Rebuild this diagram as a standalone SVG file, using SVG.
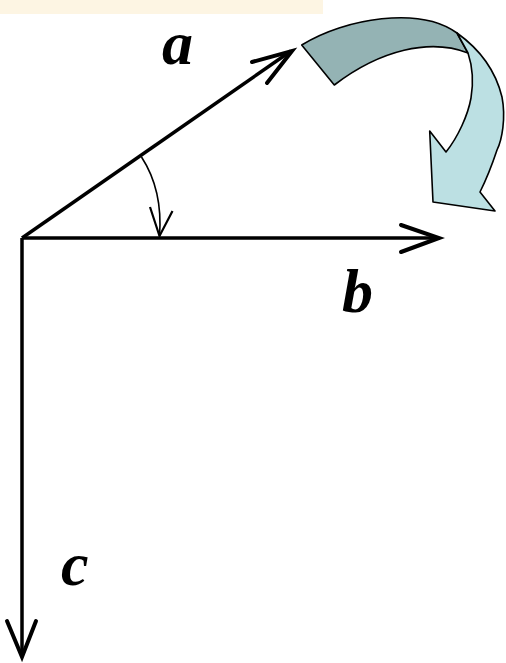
<svg xmlns="http://www.w3.org/2000/svg" width="506" height="663" viewBox="0 0 506 663">
<style>
.v{fill:none;stroke:#000;stroke-width:3.5;stroke-linecap:butt;stroke-linejoin:miter}
.h{fill:none;stroke:#000;stroke-width:4;stroke-linecap:round;stroke-linejoin:miter}
.lbl{font-family:"Liberation Serif",serif;font-style:italic;font-weight:bold;font-size:62px;fill:#000}
.cv{stroke:#000;stroke-width:1.6;stroke-linejoin:round}
</style>
<rect x="0" y="0" width="323" height="14" fill="#FDF5E3"/>
<g id="connectors">
<path class="v" d="M22,238 L291,51"/>
<path class="h" d="M252,62 L292,51 L267,83"/>
<path class="v" d="M22,238 L438,238"/>
<path class="h" d="M401,225 L439,238 L401,252"/>
<path class="v" d="M22,238 L22,656"/>
<path class="h" d="M7,621 L22,657 L36,621"/>
<path d="M141.5,157 Q163,190 159.5,236" fill="none" stroke="#000" stroke-width="1.6"/>
<path d="M150,207 L159.5,236 L172.5,211" fill="none" stroke="#000" stroke-width="2.2"/>
</g>
<g id="label-a"><text class="lbl" x="162" y="64">a</text></g>
<g id="label-b"><text class="lbl" x="342" y="312">b</text></g>
<g id="label-c"><text class="lbl" x="61" y="585">c</text></g>
<g id="curved-arrow">
<path class="cv" fill="#94B3B4" d="M301.7,45 C345,18 420,6 457,33 L468,53 C430,38 380,50 334.3,85 Z"/>
<path class="cv" fill="#BCE0E3" d="M457,33 C478,48 495,68 502,97 C506,118 502,140 497,150 C492,165 486,180 480,192 L495,211 L433,202 L429.7,131 L446,152 C458,137 468,115 471,98 C474,80 472,65 468,53 Z"/>
</g>
</svg>
